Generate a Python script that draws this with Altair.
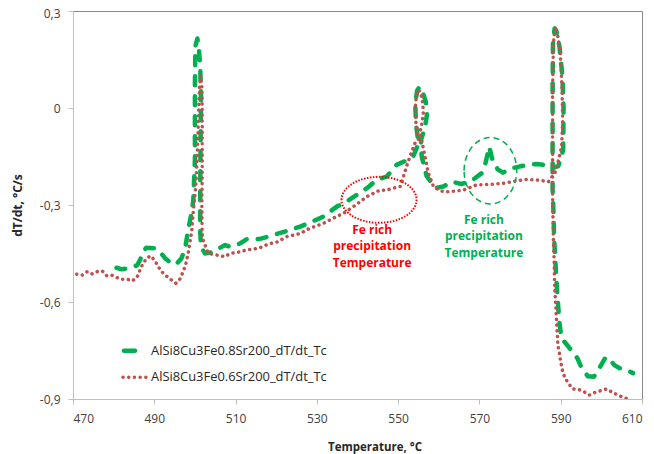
import altair as alt
import pandas as pd

S_GREEN = "AlSi8Cu3Fe0.8Sr200_dT/dt_Tc"
S_RED = "AlSi8Cu3Fe0.6Sr200_dT/dt_Tc"

t_green = [480.7, 482.0, 484.4, 485.8, 486.5, 487.3, 488.0, 490.2, 491.4, 492.7, 493.9, 495.3, 496.7, 497.6,
           498.4, 499.1, 499.6, 500.0, 500.0, 500.0, 500.1, 500.6, 501.0, 501.3, 501.5, 501.4, 501.3, 501.3,
           501.5, 502.5, 504.5, 505.8, 507.4, 508.6, 511.1, 512.7, 516.0, 519.3, 523.4, 525.9, 528.7, 531.6,
           534.9, 537.3, 539.8, 542.3, 544.7, 547.2, 549.6, 551.3, 552.3, 553.7, 555.0, 554.4, 554.2, 554.7,
           555.3, 556.0, 556.8, 557.1, 556.6, 555.6, 555.8, 557.0, 559.1, 561.1, 563.2, 565.6, 568.1, 570.5,
           571.5, 572.4, 573.2, 574.5, 575.8, 577.5, 579.2, 581.6, 584.1, 586.1, 587.4, 589.4, 590.6, 590.7,
           590.4, 589.7, 588.9, 588.5, 588.1, 588.0, 588.0, 588.0, 588.2, 588.4, 588.8, 589.2, 589.7, 590.2,
           591.9, 594.1, 595.2, 596.7, 598.2, 599.7, 601.0, 601.8, 603.2, 604.5, 605.7, 607.8]
v_green = [-0.494, -0.499, -0.494, -0.486, -0.47, -0.445, -0.432, -0.434, -0.445, -0.465, -0.478, -0.484, -0.465, -0.434,
           -0.372, -0.33, -0.285, -0.16, -0.04, 0.07, 0.19, 0.215, 0.18, 0.128, 0.035, -0.1, -0.25, -0.38,
           -0.43, -0.45, -0.445, -0.435, -0.424, -0.429, -0.419, -0.406, -0.405, -0.393, -0.377, -0.367, -0.352, -0.336,
           -0.305, -0.29, -0.269, -0.248, -0.223, -0.212, -0.176, -0.166, -0.163, -0.15, -0.11, -0.05, 0.015, 0.055,
           0.066, 0.05, 0.02, -0.02, -0.06, -0.1, -0.15, -0.21, -0.248, -0.243, -0.228, -0.235, -0.225, -0.202,
           -0.17, -0.12, -0.16, -0.19, -0.2, -0.187, -0.183, -0.176, -0.173, -0.176, -0.187, -0.18, -0.13, 0.0,
           0.1, 0.19, 0.24, 0.246, 0.2, 0.05, -0.1, -0.25, -0.316, -0.408, -0.501, -0.584, -0.666, -0.712,
           -0.738, -0.774, -0.805, -0.83, -0.831, -0.8, -0.772, -0.774, -0.795, -0.805, -0.807, -0.82]

t_red = [470.9, 472.4, 473.5, 474.7, 476.0, 477.2, 478.3, 479.5, 480.9, 482.1, 483.4, 484.5, 485.7, 486.5,
         487.1, 488.1, 489.1, 490.2, 491.0, 491.8, 492.9, 494.0, 495.3, 496.3, 497.1, 497.7, 498.4, 498.8,
         499.2, 499.6, 500.2, 500.6, 500.9, 501.1, 501.4, 501.7, 501.8, 501.8, 501.8, 501.7, 501.8, 502.0,
         503.3, 505.4, 507.4, 508.6, 511.1, 512.7, 515.6, 518.5, 520.1, 522.6, 525.9, 528.3, 531.6, 534.0,
         536.5, 539.0, 540.6, 542.3, 543.9, 545.5, 547.2, 548.8, 550.5, 551.3, 552.1, 552.9, 554.1, 555.0,
         554.4, 554.2, 554.5, 555.0, 555.6, 556.1, 556.2, 555.8, 555.4, 555.8, 556.6, 557.4, 558.7, 560.5,
         562.0, 564.0, 566.0, 569.3, 572.6, 575.9, 579.2, 581.6, 584.5, 587.0, 588.6, 589.5, 590.2, 590.5,
         590.3, 589.9, 589.2, 588.6, 588.2, 588.0, 588.0, 588.0, 588.2, 588.4, 588.5, 588.8, 589.0, 589.2,
         589.3, 589.7, 590.0, 590.4, 590.9, 591.9, 593.0, 594.3, 595.7, 597.0, 598.4, 599.9, 601.3, 602.8,
         604.4, 606.1, 607.0]
v_red = [-0.514, -0.517, -0.506, -0.513, -0.506, -0.504, -0.519, -0.517, -0.525, -0.53, -0.53, -0.535, -0.525, -0.501,
         -0.484, -0.465, -0.457, -0.473, -0.491, -0.506, -0.519, -0.53, -0.542, -0.529, -0.506, -0.486, -0.445, -0.414,
         -0.383, -0.32, -0.243, -0.14, -0.02, 0.06, 0.10, 0.07, 0.0, -0.1, -0.2, -0.3, -0.39, -0.408,
         -0.45, -0.455, -0.46, -0.45, -0.445, -0.439, -0.434, -0.419, -0.415, -0.398, -0.388, -0.372, -0.357, -0.341,
         -0.326, -0.305, -0.29, -0.274, -0.264, -0.254, -0.254, -0.248, -0.243, -0.212, -0.18, -0.15, -0.11, -0.099,
         -0.05, 0.0, 0.04, 0.056, 0.045, 0.01, -0.02, -0.05, -0.075, -0.1, -0.15, -0.2, -0.243, -0.257,
         -0.259, -0.257, -0.254, -0.238, -0.236, -0.233, -0.225, -0.221, -0.223, -0.228, -0.2, -0.16, -0.12, -0.04,
         0.066, 0.17, 0.23, 0.25, 0.2, 0.05, -0.1, -0.274, -0.408, -0.48, -0.553, -0.615, -0.666, -0.707,
         -0.733, -0.759, -0.785, -0.81, -0.831, -0.852, -0.869, -0.87, -0.877, -0.888, -0.88, -0.874, -0.869, -0.88,
         -0.89, -0.898, -0.905]

x_ticks = [470, 490, 510, 530, 550, 570, 590, 610]
y_ticks = [-0.9, -0.6, -0.3, 0, 0.3]

note_lines = ["Fe rich", "precipitation", "Temperature"]

GREEN = "#00B050"
RED = "#C0504D"
FONT = "Open Sans"

df_green = pd.DataFrame({"T": t_green, "v": v_green, "idx": range(len(t_green)), "series": S_GREEN})
df_red = pd.DataFrame({"T": t_red, "v": v_red, "idx": range(len(t_red)), "series": S_RED})

x_enc = alt.X("T:Q",
              scale=alt.Scale(domain=[470, 610], nice=False, zero=False),
              axis=alt.Axis(values=x_ticks, format="d", title="Temperature, °C", grid=False,
                            labelFont=FONT, labelFontSize=12, labelColor="#404040", labelPadding=9,
                            titleFont=FONT, titleFontSize=11.5, titleFontWeight="bold", titleColor="#262626",
                            titlePadding=17, titleX=301.5, titleAnchor="start", titleAlign="center",
                            tickSize=5, tickColor="#BFBFBF", domainColor="#BFBFBF"))
y_enc = alt.Y("v:Q",
              scale=alt.Scale(domain=[-0.9, 0.3], nice=False, zero=False),
              axis=alt.Axis(values=y_ticks, title="dT/dt, °C/s", grid=False,
                            labelExpr="datum.value == 0 ? '0\u00a0\u00a0' : (datum.value < 0 ? '-' : '') + replace(format(abs(datum.value), '.1f'), '.', ',')",
                            labelOffset={"condition": {"test": "datum.value > 0.25", "value": 2}, "value": 0},
                            labelFont=FONT, labelFontSize=12, labelColor="#404040", labelPadding=8,
                            titleFont=FONT, titleFontSize=12, titleFontWeight="bold", titleColor="#262626",
                            titlePadding=15, tickSize=5, tickColor="#BFBFBF", domainColor="#BFBFBF"))

green_line = alt.Chart(df_green).mark_line(
    color=GREEN, strokeWidth=4.5, strokeDash=[9, 11], strokeCap="round", strokeJoin="round", clip=True
).encode(x=x_enc, y=y_enc, order="idx:Q")

red_line = alt.Chart(df_red).mark_line(
    color=RED, strokeWidth=3.5, strokeDash=[0.1, 5.6], strokeCap="round", strokeJoin="round", clip=True
).encode(x=x_enc, y=y_enc, order="idx:Q")

one = pd.DataFrame({"a": [0]})

red_ellipse = alt.Chart(one).mark_point(
    shape="M -1 0 A 1 0.613 0 1 1 1 0 A 1 0.613 0 1 1 -1 0 Z",
    size=75 ** 2, filled=False, stroke="#FF0000", strokeWidth=2, strokeDash=[1.5, 1.5], opacity=1
).encode(x=alt.datum(545.3), y=alt.datum(-0.284))

green_ellipse = alt.Chart(one).mark_point(
    shape="M -1 0 A 1 1.262 0 1 1 1 0 A 1 1.262 0 1 1 -1 0 Z",
    size=52.6 ** 2, filled=False, stroke=GREEN, strokeWidth=1.5, strokeDash=[6, 4], opacity=1
).encode(x=alt.datum(572.7), y=alt.datum(-0.194))

red_note = alt.Chart(one).mark_text(
    text=note_lines, font=FONT, fontSize=12, fontWeight="bold", color="#FF0000",
    align="center", baseline="middle", lineHeight=16.5
).encode(x=alt.datum(543.6), y=alt.datum(-0.377))

green_note = alt.Chart(one).mark_text(
    text=note_lines, font=FONT, fontSize=12, fontWeight="bold", color=GREEN,
    align="center", baseline="middle", lineHeight=16.5
).encode(x=alt.datum(571.1), y=alt.datum(-0.346))

# manual legend
leg_green_sym = alt.Chart(one).mark_rule(
    color=GREEN, strokeWidth=4.5, strokeCap="round"
).encode(x=alt.value(51), x2=alt.value(62), y=alt.value(339.7))
leg_red_sym = alt.Chart(one).mark_rule(
    color=RED, strokeWidth=3.5, strokeCap="round", strokeDash=[0.1, 5.6]
).encode(x=alt.value(50), x2=alt.value(76), y=alt.value(366.3))
leg_green_txt = alt.Chart(pd.DataFrame({"name": [S_GREEN]})).mark_text(
    font=FONT, fontSize=12.9, color="#262626", align="left", baseline="middle"
).encode(x=alt.value(78), y=alt.value(339.7), text="name:N")
leg_red_txt = alt.Chart(pd.DataFrame({"name": [S_RED]})).mark_text(
    font=FONT, fontSize=12.9, color="#262626", align="left", baseline="middle"
).encode(x=alt.value(78), y=alt.value(366.3), text="name:N")

chart = alt.layer(
    green_line, red_line, red_ellipse, green_ellipse, red_note, green_note,
    leg_green_sym, leg_red_sym, leg_green_txt, leg_red_txt
).properties(
    width=569, height=388,
    autosize=alt.AutoSizeParams(type="none"),
    padding={"left": 65, "top": 3, "right": 4, "bottom": 55},
    background="white"
).configure_view(stroke="#898989", strokeWidth=1)

chart.save("out.html", embed_options={"renderer": "svg", "actions": False})
